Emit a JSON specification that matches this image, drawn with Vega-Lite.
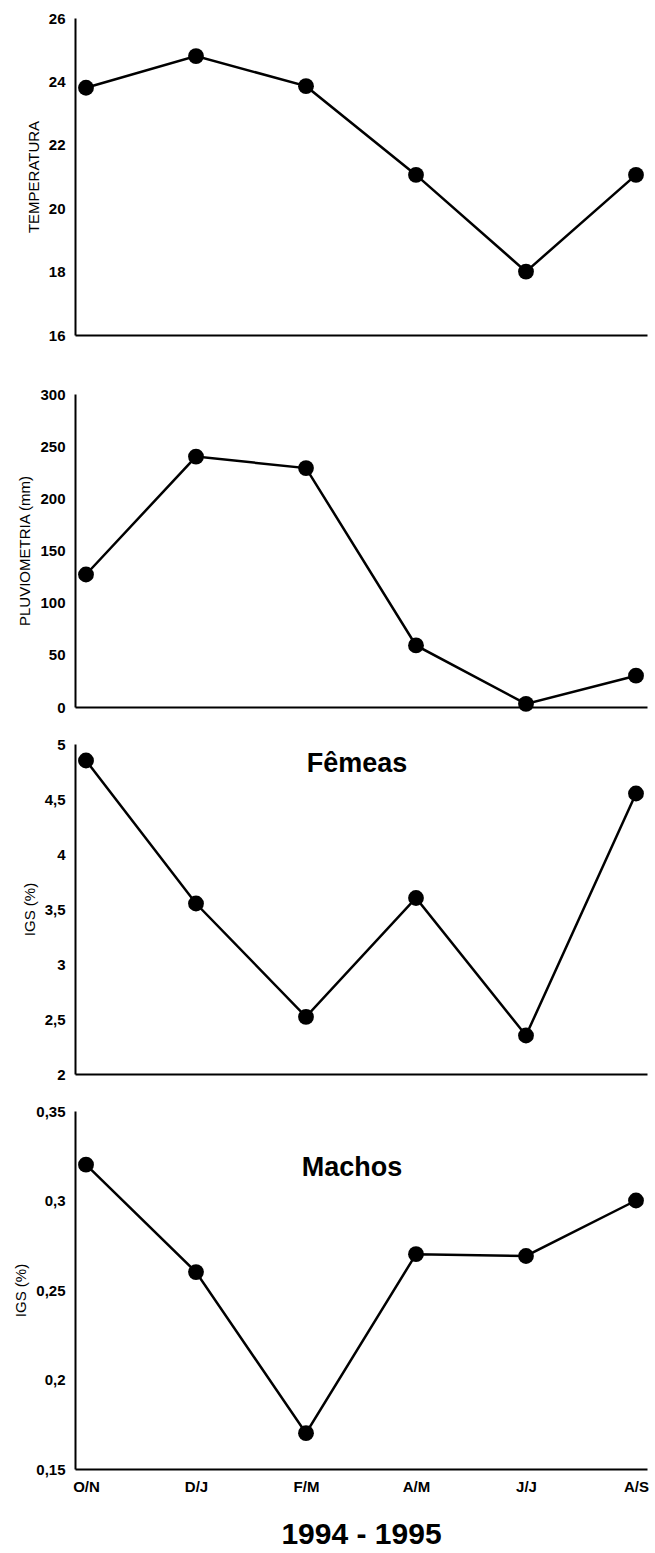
{
  "$schema": "https://vega.github.io/schema/vega-lite/v6.json",
  "padding": {"left": 13, "top": 11, "right": 5, "bottom": 0},
  "datasets": {
    "d": [
      {"periodo": "O/N", "temperatura": 23.8, "pluviometria": 127, "femeas": 4.85, "machos": 0.32},
      {"periodo": "D/J", "temperatura": 24.8, "pluviometria": 240, "femeas": 3.55, "machos": 0.26},
      {"periodo": "F/M", "temperatura": 23.85, "pluviometria": 229, "femeas": 2.52, "machos": 0.17},
      {"periodo": "A/M", "temperatura": 21.05, "pluviometria": 59, "femeas": 3.6, "machos": 0.27},
      {"periodo": "J/J", "temperatura": 18.0, "pluviometria": 3, "femeas": 2.35, "machos": 0.269},
      {"periodo": "A/S", "temperatura": 21.05, "pluviometria": 30, "femeas": 4.55, "machos": 0.3}
    ]
  },
  "data": {"name": "d"},
  "spacing": 22,
  "vconcat": [
    {
      "width": 572, "height": 317,
      "encoding": {
        "x": {"field": "periodo", "type": "ordinal", "sort": ["O/N", "D/J", "F/M", "A/M", "J/J", "A/S"], "scale": {"type": "point", "padding": 0.1},
              "axis": {"labels": false, "title": " ", "titlePadding": 15, "minExtent": 0, "maxExtent": 0}},
        "y": {"field": "temperatura", "type": "quantitative", "scale": {"domain": [16, 26], "nice": false, "zero": false},
              "axis": {"title": "TEMPERATURA", "values": [16, 18, 20, 22, 24, 26], "labelPadding": 10, "titlePadding": 7}}
      },
      "layer": [
        {"mark": {"type": "line", "color": "black", "strokeWidth": 2.5}},
        {"mark": {"type": "point", "filled": true, "color": "black", "opacity": 1, "size": 250}}
      ]
    },
    {
      "width": 572, "height": 313,
      "encoding": {
        "x": {"field": "periodo", "type": "ordinal", "sort": ["O/N", "D/J", "F/M", "A/M", "J/J", "A/S"], "scale": {"type": "point", "padding": 0.1},
              "axis": {"labels": false, "title": null}},
        "y": {"field": "pluviometria", "type": "quantitative", "scale": {"domain": [0, 300], "nice": false},
              "axis": {"title": "PLUVIOMETRIA (mm)", "values": [0, 50, 100, 150, 200, 250, 300], "labelPadding": 10, "titlePadding": 7}}
      },
      "layer": [
        {"mark": {"type": "line", "color": "black", "strokeWidth": 2.5}},
        {"mark": {"type": "point", "filled": true, "color": "black", "opacity": 1, "size": 250}}
      ]
    },
    {
      "width": 572, "height": 330,
      "title": {"text": "Fêmeas", "frame": "group", "orient": "top", "anchor": "middle", "baseline": "middle", "offset": -54, "dx": -4, "fontSize": 27, "fontWeight": "bold", "font": "Liberation Sans", "color": "black"},
      "encoding": {
        "x": {"field": "periodo", "type": "ordinal", "sort": ["O/N", "D/J", "F/M", "A/M", "J/J", "A/S"], "scale": {"type": "point", "padding": 0.1},
              "axis": {"labels": false, "title": null}},
        "y": {"field": "femeas", "type": "quantitative", "scale": {"domain": [2, 5], "nice": false, "zero": false},
              "axis": {"title": "IGS (%)", "values": [2, 2.5, 3, 3.5, 4, 4.5, 5], "labelExpr": "replace(toString(datum.value), '.', ',')", "labelPadding": 10, "titlePadding": 7}}
      },
      "layer": [
        {"mark": {"type": "line", "color": "black", "strokeWidth": 2.5}},
        {"mark": {"type": "point", "filled": true, "color": "black", "opacity": 1, "size": 250}}
      ]
    },
    {
      "width": 572, "height": 358,
      "title": {"text": "Machos", "frame": "group", "orient": "top", "anchor": "middle", "baseline": "middle", "offset": -91, "dx": -9, "fontSize": 27, "fontWeight": "bold", "font": "Liberation Sans", "color": "black"},
      "encoding": {
        "x": {"field": "periodo", "type": "ordinal", "sort": ["O/N", "D/J", "F/M", "A/M", "J/J", "A/S"], "scale": {"type": "point", "padding": 0.1},
              "axis": {"title": "1994 - 1995", "labelAngle": 0, "labelPadding": 10, "titlePadding": 25, "titleFontSize": 30, "titleFontWeight": "bold"}},
        "y": {"field": "machos", "type": "quantitative", "scale": {"domain": [0.15, 0.35], "nice": false, "zero": false},
              "axis": {"title": "IGS (%)", "values": [0.15, 0.2, 0.25, 0.3, 0.35], "labelExpr": "replace(toString(datum.value), '.', ',')", "labelPadding": 10, "titlePadding": 7}}
      },
      "layer": [
        {"mark": {"type": "line", "color": "black", "strokeWidth": 2.5}},
        {"mark": {"type": "point", "filled": true, "color": "black", "opacity": 1, "size": 250}}
      ]
    }
  ],
  "config": {
    "font": "Liberation Sans",
    "view": {"stroke": null},
    "axis": {
      "domainColor": "black", "domainWidth": 2, "ticks": false, "grid": false,
      "labelFont": "Liberation Sans", "labelFontWeight": "bold", "labelFontSize": 15, "labelColor": "black",
      "titleFont": "Liberation Sans", "titleFontWeight": "normal", "titleFontSize": 15, "titleColor": "black"
    }
  }
}
